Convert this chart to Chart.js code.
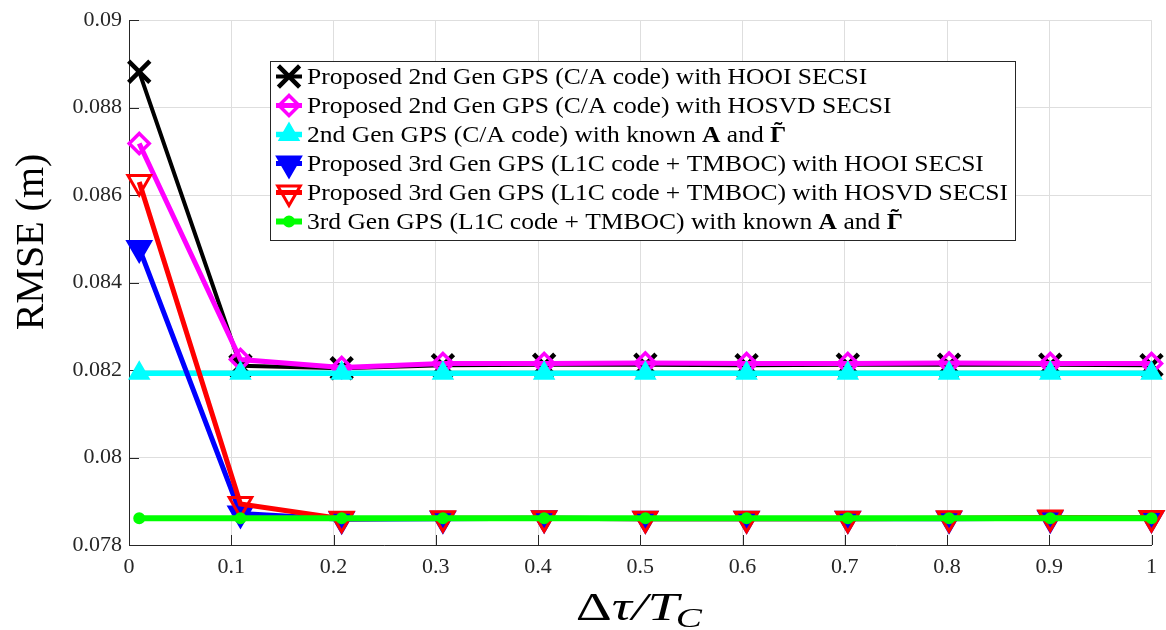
<!DOCTYPE html>
<html>
<head>
<meta charset="utf-8">
<title>RMSE vs delay</title>
<script src="https://cdn.jsdelivr.net/npm/chart.js@4.4.1/dist/chart.umd.min.js"></script>
<style>
    html, body { margin: 0; padding: 0; background: #fff; }
    #rmseChart { display: block; }
</style>
</head>
<body>
<canvas id="rmseChart" width="1166" height="630"></canvas>
<script>
// delay offset (fraction of chip period) and RMSE per method
const delayRatios = [0.01, 0.109, 0.208, 0.307, 0.406, 0.505, 0.604, 0.703, 0.802, 0.901, 1.0];
const rmseHooi2nd = [0.08882, 0.08210, 0.08204, 0.08211, 0.08212, 0.08212, 0.08211, 0.08212, 0.08212, 0.08212, 0.08211];
const rmseHosvd2nd = [0.08718, 0.08224, 0.08206, 0.08215, 0.08215, 0.08216, 0.08215, 0.08215, 0.08216, 0.08215, 0.08215];
const rmseKnown2nd = [0.08193, 0.08193, 0.08193, 0.08193, 0.08193, 0.08193, 0.08193, 0.08193, 0.08193, 0.08193, 0.08193];
const rmseHooi3rd = [0.08479, 0.07872, 0.07859, 0.07860, 0.07861, 0.07860, 0.07860, 0.07860, 0.07860, 0.07861, 0.07862];
const rmseHosvd3rd = [0.08630, 0.07894, 0.07860, 0.07861, 0.07861, 0.07860, 0.07860, 0.07860, 0.07861, 0.07863, 0.07862];
const rmseKnown3rd = [0.07861, 0.07861, 0.07861, 0.07861, 0.07861, 0.07861, 0.07861, 0.07861, 0.07861, 0.07861, 0.07861];

const xTicks = [0, 0.1, 0.2, 0.3, 0.4, 0.5, 0.6, 0.7, 0.8, 0.9, 1];
const yTicks = [0.078, 0.08, 0.082, 0.084, 0.086, 0.088, 0.09];

// legend rows: [text, bold]; 'GT' marks the bold Gamma with tilde
const legendRows = [
    [['Proposed 2nd Gen GPS (C/A code) with HOOI SECSI', false]],
    [['Proposed 2nd Gen GPS (C/A code) with HOSVD SECSI', false]],
    [['2nd Gen GPS (C/A code) with known ', false], ['A', true], [' and ', false], ['GT', true]],
    [['Proposed 3rd Gen GPS (L1C code + TMBOC) with HOOI SECSI', false]],
    [['Proposed 3rd Gen GPS (L1C code + TMBOC) with HOSVD SECSI', false]],
    [['3rd Gen GPS (L1C code + TMBOC) with known ', false], ['A', true], [' and ', false], ['GT', true]],
];

const serif = '"Liberation Serif", "Times New Roman", serif';
const axisColor = '#262626';

const toPoints = (values) => values.map((y, i) => ({ x: delayRatios[i], y }));

const makeSeries = (values, color, style) => Object.assign({
    data: toPoints(values),
    borderColor: color,
    pointBorderColor: color,
    pointBackgroundColor: color,
    pointRotation: 0,
    pointHoverRadius: style.pointRadius,
    tension: 0,
    clip: false,
    fill: false,
}, style);

const datasets = [
    makeSeries(rmseHooi2nd, '#000000', { borderWidth: 4, pointStyle: 'crossRot', pointRadius: 15, pointBorderWidth: 4.5, order: 5 }),
    makeSeries(rmseHosvd2nd, '#ff00ff', { borderWidth: 5, pointStyle: 'rectRot', pointRadius: 10, pointBorderWidth: 3.5, pointBackgroundColor: 'rgba(0,0,0,0)', order: 4 }),
    makeSeries(rmseKnown2nd, '#00ffff', { borderWidth: 5.5, pointStyle: 'triangle', pointRadius: 11, pointBorderWidth: 2, order: 3 }),
    makeSeries(rmseHooi3rd, '#0000ff', { borderWidth: 5, pointStyle: 'triangle', pointRotation: 180, pointRadius: 13, pointBorderWidth: 3, order: 2 }),
    makeSeries(rmseHosvd3rd, '#ff0000', { borderWidth: 5, pointStyle: 'triangle', pointRotation: 180, pointRadius: 13, pointBorderWidth: 3, pointBackgroundColor: 'rgba(0,0,0,0)', order: 1 }),
    makeSeries(rmseKnown3rd, '#00ff00', { borderWidth: 6, pointStyle: 'circle', pointRadius: 5, pointBorderWidth: 2, order: 0 }),
];

const formatTick = (value) => String(Number(Number(value).toFixed(3)));

// MATLAB-style inward ticks on the bottom and left axes
const inwardTicks = {
    id: 'inwardTicks',
    beforeDatasetsDraw(chart) {
        const { ctx, chartArea, scales } = chart;
        ctx.save();
        ctx.strokeStyle = axisColor;
        ctx.lineWidth = 1;
        ctx.beginPath();
        xTicks.forEach((v) => {
            const px = Math.round(scales.x.getPixelForValue(v)) + 0.5;
            ctx.moveTo(px, chartArea.bottom);
            ctx.lineTo(px, chartArea.bottom - 10);
        });
        yTicks.forEach((v) => {
            const py = Math.round(scales.y.getPixelForValue(v)) + 0.5;
            ctx.moveTo(chartArea.left, py);
            ctx.lineTo(chartArea.left + 10, py);
        });
        ctx.stroke();
        ctx.restore();
    },
};

const axisTitles = {
    id: 'axisTitles',
    afterDraw(chart) {
        const { ctx, chartArea } = chart;
        ctx.save();
        ctx.fillStyle = '#000';

        // y title
        ctx.save();
        ctx.translate(32, 242);
        ctx.rotate(-Math.PI / 2);
        ctx.font = `40px ${serif}`;
        ctx.textAlign = 'center';
        ctx.textBaseline = 'middle';
        ctx.fillText('RMSE (m)', 0, 0);
        ctx.restore();

        // x title: Δτ/T_C
        const big = `40px ${serif}`;
        const bigItalic = `italic 40px ${serif}`;
        const small = `italic 28px ${serif}`;
        ctx.textBaseline = 'alphabetic';
        ctx.textAlign = 'left';
        ctx.font = big;
        const wDelta = ctx.measureText('Δ').width;
        ctx.font = bigItalic;
        const wMain = ctx.measureText('τ/T').width;
        ctx.font = small;
        const wSub = ctx.measureText('C').width;
        const total = wDelta + wMain + wSub;
        const cx = (chartArea.left + chartArea.right) / 2;
        const sx = 129 / total;
        ctx.translate(cx - 64.5, 620);
        ctx.scale(sx, 1);
        ctx.font = big;
        ctx.fillText('Δ', 0, 0);
        ctx.font = bigItalic;
        ctx.fillText('τ/T', wDelta, 0);
        ctx.font = small;
        ctx.fillText('C', wDelta + wMain - 2, 7);
        ctx.restore();
    },
};

const drawMarker = (ctx, ds, x, y) => {
    ctx.save();
    ctx.strokeStyle = ds.pointBorderColor;
    ctx.fillStyle = ds.pointBackgroundColor;
    ctx.lineWidth = ds.pointBorderWidth;
    Chart.helpers.drawPoint(ctx, {
        pointStyle: ds.pointStyle,
        radius: ds.pointRadius,
        rotation: ds.pointRotation,
        borderWidth: ds.pointBorderWidth,
    }, x, y);
    ctx.restore();
};

const boxLegend = {
    id: 'boxLegend',
    afterDraw(chart) {
        const { ctx } = chart;
        const box = { left: 270.5, top: 61.5, right: 1015.5, bottom: 240.5 };
        const textLeft = 307;
        const textWidth = 701;
        const fontSize = 23;
        const regular = `${fontSize}px ${serif}`;
        const bold = `bold ${fontSize}px ${serif}`;

        ctx.save();
        ctx.fillStyle = '#fff';
        ctx.fillRect(box.left, box.top, box.right - box.left, box.bottom - box.top);
        ctx.strokeStyle = axisColor;
        ctx.lineWidth = 1;
        ctx.strokeRect(box.left, box.top, box.right - box.left, box.bottom - box.top);

        const segWidth = (seg) => {
            ctx.font = seg[1] ? bold : regular;
            return ctx.measureText(seg[0] === 'GT' ? 'Γ' : seg[0]).width;
        };
        const rowWidth = (row) => row.reduce((sum, seg) => sum + segWidth(seg), 0);
        const maxW = Math.max(...legendRows.map(rowWidth));
        const sx = textWidth / maxW;

        legendRows.forEach((row, i) => {
            const ds = datasets[i];
            const cy = 76.5 + i * 29;

            ctx.save();
            ctx.strokeStyle = ds.borderColor;
            ctx.lineWidth = ds.borderWidth;
            ctx.beginPath();
            ctx.moveTo(276, cy);
            ctx.lineTo(302, cy);
            ctx.stroke();
            ctx.restore();
            drawMarker(ctx, ds, 289, cy);

            ctx.save();
            ctx.translate(textLeft, cy + 7);
            ctx.scale(sx, 1);
            ctx.fillStyle = '#000';
            ctx.textBaseline = 'alphabetic';
            let px = 0;
            row.forEach((seg) => {
                const w = segWidth(seg);
                ctx.font = seg[1] ? bold : regular;
                if (seg[0] === 'GT') {
                    ctx.textAlign = 'left';
                    ctx.fillText('Γ', px, 0);
                    ctx.textAlign = 'center';
                    ctx.fillText('˜', px + w / 2, -4);
                    ctx.textAlign = 'left';
                } else {
                    ctx.fillText(seg[0], px, 0);
                }
                px += w;
            });
            ctx.restore();
        });
        ctx.restore();
    },
};

const ctx = document.getElementById('rmseChart');
new Chart(ctx, {
    type: 'line',
    data: { datasets },
    options: {
        responsive: false,
        animation: false,
        events: [],
        layout: {
            autoPadding: false,
            padding: { left: 0, top: 20, right: 9, bottom: 0 },
        },
        plugins: {
            legend: { display: false },
            tooltip: { enabled: false },
        },
        scales: {
            x: {
                type: 'linear',
                min: 0,
                max: 1,
                afterBuildTicks: (scale) => { scale.ticks = xTicks.map((value) => ({ value })); },
                afterFit: (scale) => { scale.height = 85; },
                ticks: {
                    callback: formatTick,
                    color: axisColor,
                    font: { family: serif, size: 22 },
                    padding: 9,
                    maxRotation: 0,
                    autoSkip: false,
                },
                grid: { color: '#dedede', lineWidth: 1, drawTicks: false },
                border: { display: true, color: axisColor, width: 1 },
            },
            y: {
                type: 'linear',
                min: 0.078,
                max: 0.09,
                afterBuildTicks: (scale) => { scale.ticks = yTicks.map((value) => ({ value })); },
                afterFit: (scale) => { scale.width = 129; },
                ticks: {
                    callback: formatTick,
                    color: axisColor,
                    font: { family: serif, size: 22 },
                    padding: 7,
                    autoSkip: false,
                },
                grid: { color: '#dedede', lineWidth: 1, drawTicks: false },
                border: { display: true, color: axisColor, width: 1 },
            },
        },
    },
    plugins: [inwardTicks, axisTitles, boxLegend],
});
</script>
</body>
</html>
